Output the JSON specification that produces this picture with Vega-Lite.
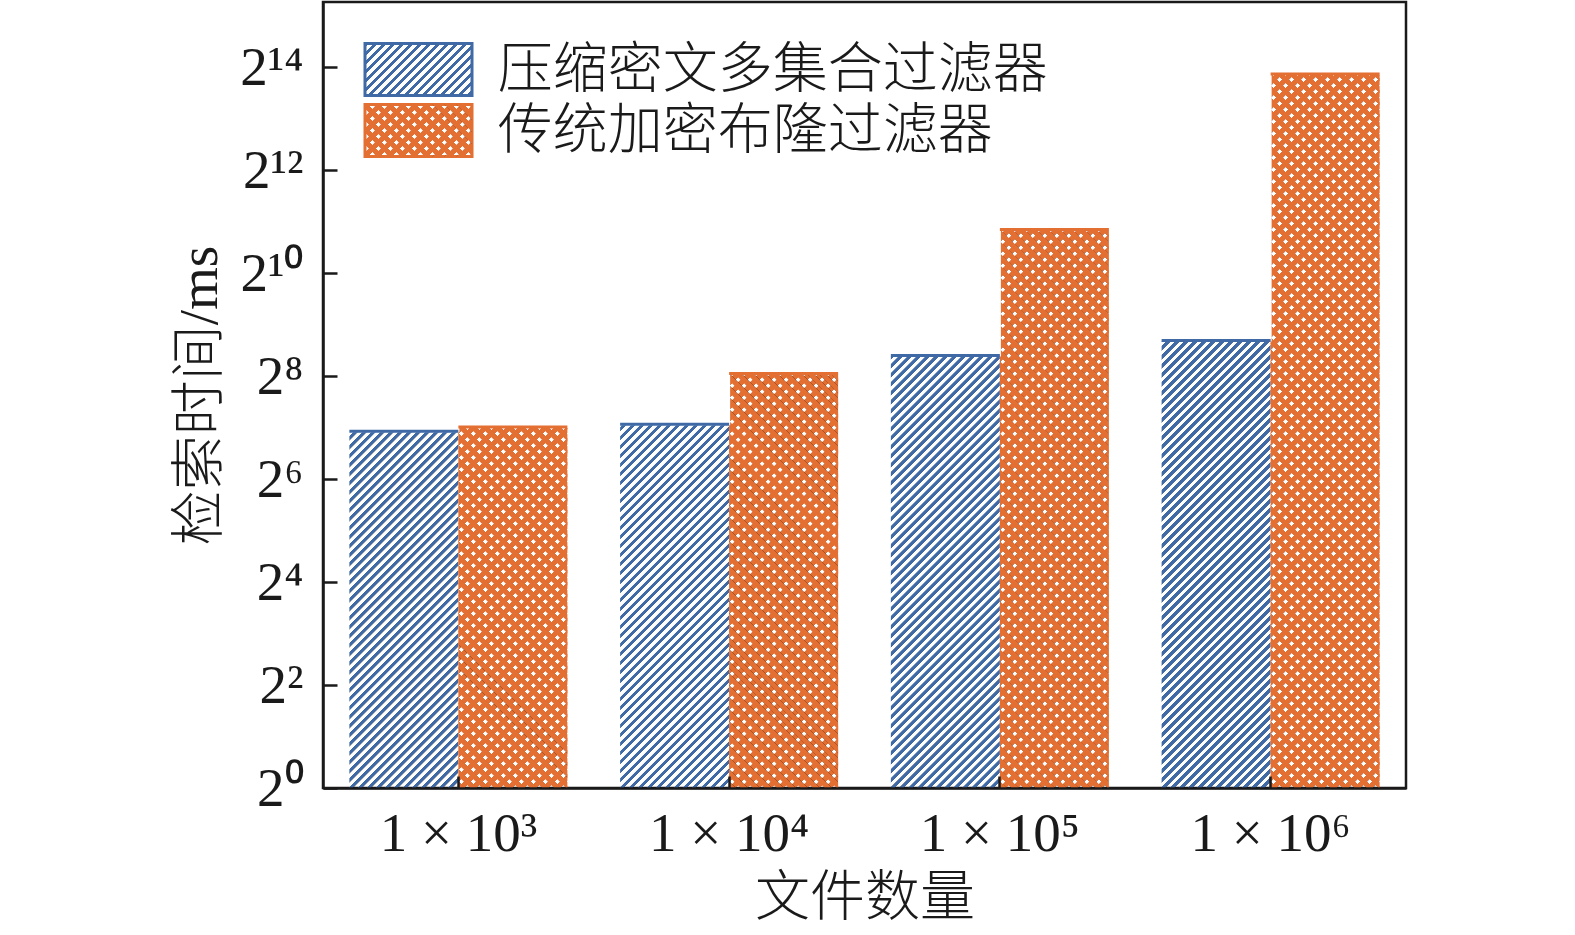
{
  "$schema": "https://vega.github.io/schema/vega-lite/v6.json",
  "width": 1083,
  "height": 786,
  "autosize": {"type": "none"},
  "padding": {"left": 323, "top": 2, "right": 169, "bottom": 147},
  "background": "white",
  "params": [
    {"name": "stripes", "expr": "slice(split(pad('', 125, '#3f6aa6;#3f6aa6;#3f6aa6;#3f6aa6;#3f6aa6;#3f6aa6;#3f6aa6;#3f6aa6;#3f6aa6;#3f6aa6;rgba(63,106,166,0);rgba(63,106,166,0);rgba(63,106,166,0);rgba(63,106,166,0);rgba(63,106,166,0);rgba(63,106,166,0);rgba(63,106,166,0);rgba(63,106,166,0);rgba(63,106,166,0);rgba(63,106,166,0);') + pad('', 126, '#e36f33;#e36f33;#e36f33;#e36f33;#e36f33;#e36f33;#e36f33;#e36f33;#e36f33;#e36f33;#e36f33;#e36f33;rgba(227,111,51,0);rgba(227,111,51,0);rgba(227,111,51,0);rgba(227,111,51,0);rgba(227,111,51,0);rgba(227,111,51,0);rgba(227,111,51,0);rgba(227,111,51,0);'), ';'), 0, 5001)"}
  ],
  "data": {
    "values": [
      {"files": "1 × 10³", "series": "压缩密文多集合过滤器", "time": 122},
      {"files": "1 × 10³", "series": "传统加密布隆过滤器", "time": 129},
      {"files": "1 × 10⁴", "series": "压缩密文多集合过滤器", "time": 134},
      {"files": "1 × 10⁴", "series": "传统加密布隆过滤器", "time": 265},
      {"files": "1 × 10⁵", "series": "压缩密文多集合过滤器", "time": 338},
      {"files": "1 × 10⁵", "series": "传统加密布隆过滤器", "time": 1845},
      {"files": "1 × 10⁶", "series": "压缩密文多集合过滤器", "time": 414},
      {"files": "1 × 10⁶", "series": "传统加密布隆过滤器", "time": 14950}
    ]
  },
  "resolve": {"scale": {"fill": "independent"}, "legend": {"fill": "independent"}},
  "encoding": {
    "x": {
      "field": "files",
      "type": "nominal",
      "sort": null,
      "scale": {"domain": ["1 × 10³", "1 × 10⁴", "1 × 10⁵", "1 × 10⁶"], "paddingInner": 0.1948, "paddingOuter": 0.0974},
      "axis": {
        "title": "文件数量",
        "labelAngle": 0,
        "labelFont": "Liberation Serif",
        "labelFontSize": 55,
        "labelColor": "#1a1a1a",
        "labelPadding": 31,
        "tickSize": -12,
        "tickWidth": 2.5,
        "tickColor": "#1a1a1a",
        "domainColor": "#1a1a1a",
        "domainWidth": 2.5,
        "titleFont": "Noto Sans CJK SC",
        "titleFontSize": 55,
        "titleFontWeight": 300,
        "titleColor": "#1a1a1a",
        "titlePadding": 10,
        "zindex": 1
      }
    },
    "xOffset": {
      "field": "series",
      "type": "nominal",
      "sort": null,
      "scale": {"domain": ["压缩密文多集合过滤器", "传统加密布隆过滤器"], "paddingInner": 0, "paddingOuter": 0}
    },
    "y": {
      "field": "time",
      "type": "quantitative",
      "scale": {"type": "log", "base": 2, "domain": [1, 39460], "nice": false},
      "axis": {
        "title": "检索时间/ms",
        "values": [1, 4, 16, 64, 256, 1024, 4096, 16384],
        "labelExpr": "['2⁰','2²','2⁴','2⁶','2⁸','2¹⁰','2¹²','2¹⁴'][round(log(datum.value)/log(4))]",
        "labelFont": "Liberation Serif",
        "labelFontSize": 55,
        "labelColor": "#1a1a1a",
        "labelPadding": 34,
        "tickSize": -14,
        "tickWidth": 2.5,
        "tickColor": "#1a1a1a",
        "domainColor": "#1a1a1a",
        "domainWidth": 2.5,
        "grid": false,
        "titleFont": "Liberation Serif, Noto Sans CJK SC",
        "titleFontSize": 55,
        "titleFontWeight": 300,
        "titleColor": "#1a1a1a",
        "titlePadding": 11,
        "zindex": 1
      }
    }
  },
  "layer": [
    {
      "mark": {"type": "bar"},
      "encoding": {
        "y": {"datum": 1, "type": "quantitative"},
        "y2": {"datum": 1},
        "color": {"field": "time", "type": "quantitative", "scale": {"domain": [0, 1], "scheme": {"expr": "stripes"}}, "legend": null}
      }
    },
    {
      "transform": [{"filter": "datum.series === '压缩密文多集合过滤器'"}],
      "mark": {"type": "bar", "fill": {"expr": "gradient('color', [0,0], [0.46161,3.05214], 5000)"}, "strokeWidth": 0},
      "encoding": {"y": {"datum": 16384, "type": "quantitative"}, "y2": {"datum": 1}}
    },
    {
      "transform": [{"filter": "datum.series === '传统加密布隆过滤器'"}],
      "mark": {"type": "bar", "fill": {"expr": "gradient('color', [-0.30774,-2.03476], [0.30774,2.03476], 5000)"}, "strokeWidth": 0},
      "encoding": {"y": {"datum": 16384, "type": "quantitative"}, "y2": {"datum": 1}}
    },
    {
      "transform": [{"filter": "datum.series === '传统加密布隆过滤器'"}],
      "mark": {"type": "bar", "fill": {"expr": "gradient('color', [-0.30774,3.03476], [0.30774,-1.03476], 5000)"}, "strokeWidth": 0},
      "encoding": {"y": {"datum": 16384, "type": "quantitative"}, "y2": {"datum": 1}}
    },
    {
      "mark": {"type": "bar", "fill": "white", "stroke": "white", "strokeWidth": 2},
      "encoding": {"y2": {"datum": 16384}}
    },
    {
      "mark": {"type": "bar", "filled": false, "strokeWidth": 3},
      "encoding": {
        "stroke": {
          "field": "series",
          "type": "nominal",
          "sort": null,
          "scale": {"domain": ["压缩密文多集合过滤器", "传统加密布隆过滤器"], "range": ["#3f6aa6", "#e36f33"]},
          "legend": {
            "orient": "none",
            "legendX": 67,
            "legendY": 39,
            "title": null,
            "padding": 0,
            "symbolType": "M-2,-0.972H2V0.972H-2Z",
            "symbolSize": 2862.25,
            "symbolStrokeWidth": 3,
            "labelFont": "Noto Sans CJK SC",
            "labelFontSize": 55,
            "labelFontWeight": 300,
            "labelColor": "#1a1a1a",
            "labelOffset": 50.75,
            "labelLimit": 0,
            "rowPadding": -8
          }
        }
      }
    },
    {
      "mark": {"type": "bar"},
      "encoding": {
        "y": {"datum": 1, "type": "quantitative"},
        "y2": {"datum": 1},
        "fill": {
          "field": "series",
          "type": "nominal",
          "sort": null,
          "scale": {
            "domain": ["压缩密文多集合过滤器", "传统加密布隆过滤器"],
            "range": [
              {"expr": "gradient('color', [0,0], [17.0105,8.2668], 5000)"},
              {"expr": "gradient('color', [-11.3404,-5.5112], [11.3404,5.5112], 5000)"}
            ]
          },
          "legend": {
            "orient": "none",
            "legendX": 67,
            "legendY": 39,
            "title": null,
            "padding": 0,
            "symbolType": "M-2,-0.972H2V0.972H-2Z",
            "symbolSize": 2862.25,
            "symbolStrokeWidth": 3,
            "symbolStrokeColor": "transparent",
            "labelFont": "Noto Sans CJK SC",
            "labelFontSize": 55,
            "labelFontWeight": 300,
            "labelOpacity": 0,
            "labelExpr": "''",
            "labelOffset": 50.75,
            "labelLimit": 0,
            "rowPadding": -8
          }
        }
      }
    },
    {
      "mark": {"type": "bar"},
      "encoding": {
        "y": {"datum": 1, "type": "quantitative"},
        "y2": {"datum": 1},
        "fill": {
          "field": "series",
          "type": "nominal",
          "sort": null,
          "scale": {
            "domain": ["压缩密文多集合过滤器", "传统加密布隆过滤器"],
            "range": [
              "transparent",
              {"expr": "gradient('color', [-11.3404,6.5112], [11.3404,-4.5112], 5000)"}
            ]
          },
          "legend": {
            "orient": "none",
            "legendX": 67,
            "legendY": 39,
            "title": null,
            "padding": 0,
            "symbolType": "M-2,-0.972H2V0.972H-2Z",
            "symbolSize": 2862.25,
            "symbolStrokeWidth": 3,
            "symbolStrokeColor": "transparent",
            "labelFont": "Noto Sans CJK SC",
            "labelFontSize": 55,
            "labelFontWeight": 300,
            "labelOpacity": 0,
            "labelExpr": "''",
            "labelOffset": 50.75,
            "labelLimit": 0,
            "rowPadding": -8
          }
        }
      }
    }
  ],
  "config": {
    "view": {"stroke": "#1a1a1a", "strokeWidth": 2.5},
    "font": "Liberation Serif"
  }
}
